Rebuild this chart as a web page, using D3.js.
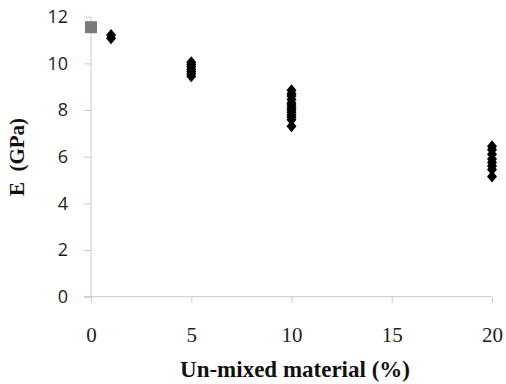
<!DOCTYPE html>
<html>
<head>
<meta charset="utf-8">
<script src="https://cdn.jsdelivr.net/npm/d3@7"></script>
<style>
  body { margin: 0; background: #fff; }
  svg { display: block; }
</style>
</head>
<body>
<div id="chart"></div>
<script>
const width = 506;
const height = 384;

// reference material (0 % un-mixed)
const refX = [0];
const refE = [11.55];

// measured samples
const sampleX = [
    1, 1,
    5, 5, 5, 5, 5, 5, 5,
    10, 10, 10, 10, 10, 10, 10, 10, 10, 10, 10, 10, 10,
    20, 20, 20, 20, 20, 20, 20, 20
];
const sampleE = [
    11.22, 11.08,
    10.05, 9.95, 9.85, 9.75, 9.65, 9.55, 9.45,
    8.85, 8.7, 8.6, 8.45, 8.3, 8.2, 8.1, 8.0, 7.9, 7.8, 7.7, 7.58, 7.3,
    6.45, 6.3, 6.1, 5.9, 5.75, 5.6, 5.45, 5.15
];

const xTicks = [0, 5, 10, 15, 20];
const yTicks = [0, 2, 4, 6, 8, 10, 12];

const x = d3.scaleLinear().domain([0, 20]).range([91, 492]);
const y = d3.scaleLinear().domain([0, 12]).range([296.7, 16.7]);

const svg = d3.select("#chart")
    .append("svg")
    .attr("width", width)
    .attr("height", height);

const axisColor = "#c8c8c8";

// y axis
const yAxis = svg.append("g")
    .attr("transform", `translate(${x(0)},0)`)
    .call(d3.axisLeft(y).tickValues(yTicks).tickSize(7).tickPadding(16));
yAxis.select(".domain").attr("stroke", axisColor).attr("d", `M0,${y(12)}V${y(0)}`);
yAxis.selectAll(".tick line").attr("stroke", axisColor);
yAxis.selectAll(".tick text")
    .attr("fill", "#222")
    .style("font-family", "'Open Sans', 'Liberation Sans', sans-serif")
    .style("font-size", "18px");

// x axis
const xAxis = svg.append("g")
    .attr("transform", `translate(0,${y(0)})`)
    .call(d3.axisBottom(x).tickValues(xTicks).tickSize(6).tickPadding(24));
xAxis.select(".domain").attr("stroke", axisColor).attr("d", `M${x(0) - 7},0H${x(20)}`);
xAxis.selectAll(".tick line").attr("stroke", axisColor);
xAxis.selectAll(".tick text")
    .attr("fill", "#222")
    .style("font-family", "'Liberation Serif', 'Times New Roman', serif")
    .style("font-size", "21px");

// axis titles
svg.append("text")
    .attr("x", 295)
    .attr("y", 377)
    .attr("text-anchor", "middle")
    .style("font-family", "'Liberation Serif', 'Times New Roman', serif")
    .style("font-weight", "bold")
    .style("font-size", "23px")
    .attr("fill", "#111")
    .text("Un-mixed material (%)");

svg.append("text")
    .attr("transform", "translate(24,157) rotate(-90)")
    .attr("text-anchor", "middle")
    .style("font-family", "'Liberation Serif', 'Times New Roman', serif")
    .style("font-weight", "bold")
    .style("font-size", "21px")
    .style("white-space", "pre")
    .attr("fill", "#111")
    .text("E  (GPa)");

// reference square
svg.append("g")
    .selectAll("rect")
    .data(refX.map((d, i) => ({ x: d, e: refE[i] })))
    .enter().append("rect")
    .attr("x", d => x(d.x) - 6)
    .attr("y", d => y(d.e) - 6)
    .attr("width", 12)
    .attr("height", 12)
    .attr("fill", "#7a7a7a");

// sample diamonds
const diamond = "M0,-6L5,0L0,6L-5,0Z";
svg.append("g")
    .selectAll("path")
    .data(sampleX.map((d, i) => ({ x: d, e: sampleE[i] })))
    .enter().append("path")
    .attr("d", diamond)
    .attr("transform", d => `translate(${x(d.x)},${y(d.e)})`)
    .attr("fill", "#000");
</script>
</body>
</html>
